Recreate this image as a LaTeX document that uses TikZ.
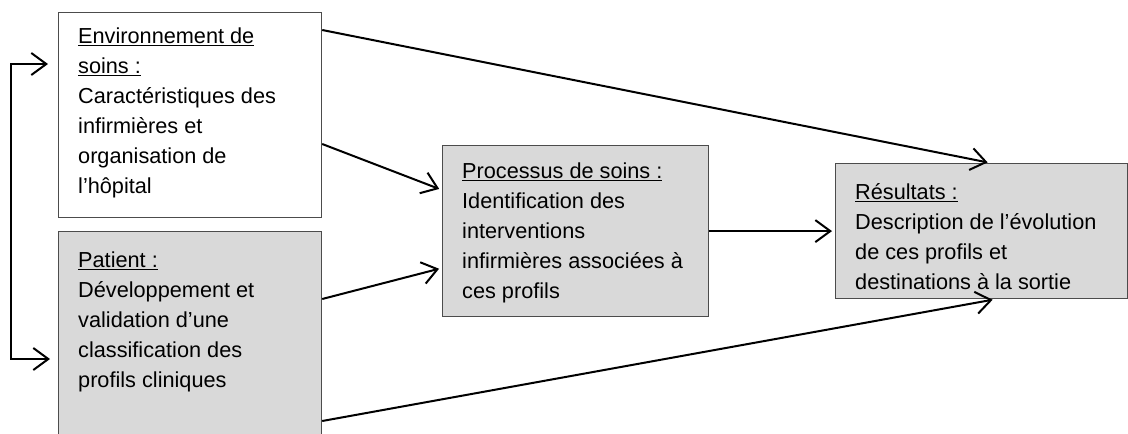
\documentclass[tikz,border=0pt]{standalone}
\usepackage{fontspec}
\setmainfont{Liberation Sans}
\usetikzlibrary{arrows.meta, positioning}

\newcommand{\heading}[1]{\underline{#1}}

\begin{document}
\begin{tikzpicture}[
		x=1pt, y=-1pt,
		every node/.style={font=\fontsize{21.7}{30}\selectfont},
		box/.style={draw=black!70, line width=1.2pt, rectangle, anchor=north west, inner sep=0pt},
		shaded/.style={box, fill=black!15},
		boxtext/.style={align=left, inner sep=0pt},
		arrow/.style={-{Straight Barb[length=15pt, width=22pt]}, line width=2pt, shorten >=3pt},
		feedback/.style={{Straight Barb[length=15pt, width=22pt]}-{Straight Barb[length=15pt, width=22pt]}, line width=2pt}
		]
		\useasboundingbox (0,0) rectangle (1128,434);
		
		% === BOXES ===
		\node[box, minimum width=263pt, minimum height=205pt] (env) at (58,12) {};
		\node[shaded, minimum width=263pt, minimum height=225pt] (patient) at (58,231) {};
		\node[shaded, minimum width=266pt, minimum height=171pt] (process) at (442,145) {};
		\node[shaded, minimum width=292pt, minimum height=135pt] (results) at (835,163) {};
		
		% === TEXTS ===
		\node[boxtext, below right=16pt and 20pt of env.north west] (envtext)
		{\heading{Environnement de}\\ \heading{soins :}\\ Caractéristiques des\\ infirmières et\\ organisation de\\ l’hôpital};
		\node[boxtext, below right=21pt and 20pt of patient.north west] (patienttext)
		{\heading{Patient :}\\ Développement et\\ validation d’une\\ classification des\\ profils cliniques};
		\node[boxtext, below right=18pt and 20pt of process.north west] (processtext)
		{\heading{Processus de soins :}\\ Identification des\\ interventions\\ infirmières associées à\\ ces profils};
		\node[boxtext, below right=20pt and 20pt of results.north west] (resultstext)
		{\heading{Résultats :}\\ Description de l’évolution\\ de ces profils et\\ destinations à la sortie};
		
		% === ARROWS ===
		\draw[arrow] ([yshift=-18pt]env.north east) -- ([xshift=9pt]results.north);
		\draw[arrow] ([yshift=-132pt]env.north east) -- ([yshift=-45pt]process.north west);
		\draw[arrow] ([yshift=-68pt]patient.north east) -- ([yshift=-123pt]process.north west);
		\draw[arrow] ([yshift=-190pt]patient.north east) -- ([xshift=14pt]results.south);
		\draw[arrow] (process.east) -- (results.west);
		
		% feedback between environment and patient
		\draw[feedback] ([xshift=-10pt, yshift=-52pt]env.north west) -- ++(-37,0) |- ([xshift=-8pt, yshift=-128pt]patient.north west);
		
	\end{tikzpicture}
\end{document}
